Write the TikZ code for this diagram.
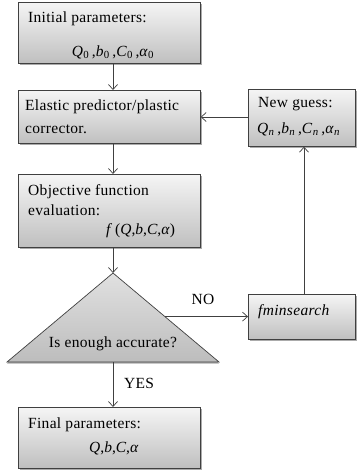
\documentclass[tikz,border=0pt]{standalone}
\usepackage{fontspec}
\setmainfont{Liberation Serif}[LetterSpace=2]
\usetikzlibrary{shadows,arrows.meta,calc}
\begin{document}
\begin{tikzpicture}[x=1pt,y=-1pt,
  font=\fontsize{15.5}{18}\selectfont,
  boxstyle/.style={draw=black!75, line width=0.7pt, rectangle, inner sep=0pt,
    top color=black!4, bottom color=black!25,
    drop shadow={shadow xshift=1.5pt, shadow yshift=-1.5pt, fill=black!55, opacity=0.6}},
  tristyle/.style={draw=black!75, line width=0.7pt, top color=black!12, bottom color=black!26,
    drop shadow={shadow xshift=0pt, shadow yshift=-1.5pt, fill=black!55, opacity=0.6}},
  arr/.style={draw=black!75, line width=0.7pt, -{Straight Barb[length=5pt,width=9pt]}},
  txt/.style={anchor=base west, inner sep=0pt},
  ctxt/.style={anchor=base, inner sep=0pt}]
\useasboundingbox (0,0) rectangle (358,475);
% boxes
\node[boxstyle, minimum width=182pt, minimum height=61pt, anchor=north west] (init) at (18,2) {};
\node[boxstyle, minimum width=182pt, minimum height=53pt, anchor=north west] (elastic) at (18,90) {};
\node[boxstyle, minimum width=182pt, minimum height=73pt, anchor=north west] (obj) at (18,174) {};
\node[boxstyle, minimum width=182pt, minimum height=61pt, anchor=north west] (final) at (18,407) {};
\node[boxstyle, minimum width=107pt, minimum height=57pt, anchor=north west] (guess) at (248,89) {};
\node[boxstyle, minimum width=107pt, minimum height=45pt, anchor=north west] (fmin) at (248,294) {};
% triangle
\coordinate (apex) at (113,273);
\coordinate (bl) at (7,362);
\coordinate (br) at (219,362);
\path[tristyle] (apex) -- (br) -- (bl) -- cycle;
\coordinate (noStart) at ($(apex)!0.49!(br)$);
\coordinate (baseMid) at (apex |- bl);
% texts
\node[txt] (t1) at (28,22) {Initial parameters:};
\node[ctxt] (t1b) at (113,56) {\textit{Q}\textsubscript{0}\,,\textit{b}\textsubscript{0}\,,\textit{C}\textsubscript{0}\,,\textit{α}\textsubscript{0}};
\node[txt] (t2) at (25,110) {Elastic predictor/plastic};
\node[txt] (t2b) at (25,133) {corrector.};
\node[txt] (t3) at (28,195) {Objective function};
\node[txt] (t3b) at (28,215) {evaluation:};
\node[txt] (t3c) at (106,234) {\textit{f}\,(\textit{Q},\textit{b},\textit{C},\textit{α})};
\node[ctxt] (t4) at (113,347) {Is enough accurate?};
\node[txt] (t5) at (28,428) {Final parameters:};
\node[ctxt] (t5b) at (114,452) {\textit{Q},\textit{b},\textit{C},\textit{α}};
\node[txt] (t6) at (258,107) {New guess:};
\node[txt] (t6b) at (257,133) {\textit{Q}\textsubscript{\textit{n}}\,,\textit{b}\textsubscript{\textit{n}}\,,\textit{C}\textsubscript{\textit{n}}\,,\textit{α}\textsubscript{\textit{n}}};
\node[txt] (t7) at (258,315) {\textit{fminsearch}};
\node[ctxt] (no) at (203,304) {NO};
\node[txt] (yes) at (124,388) {YES};
% connectors
\draw[arr] (init.south -| apex) -- (elastic.north -| apex);
\draw[arr] (elastic.south -| apex) -- (obj.north -| apex);
\draw[arr] (obj.south -| apex) -- (apex);
\draw[arr] (baseMid) -- (final.north -| apex);
\draw[arr] (noStart) -- (fmin.west |- noStart);
\draw[arr] (fmin.north -| 304,0) -- (guess.south -| 304,0);
\draw[arr] (guess.west |- 0,117) -- (elastic.east |- 0,117);
\end{tikzpicture}
\end{document}
